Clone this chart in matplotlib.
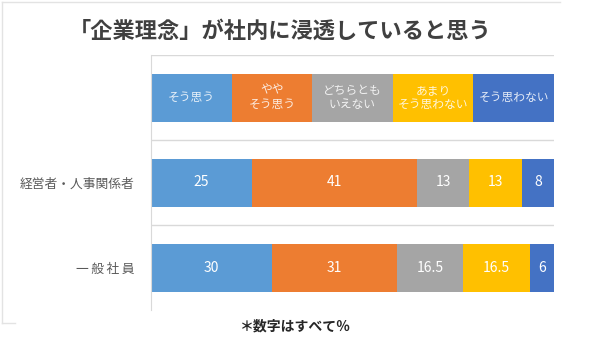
import matplotlib
matplotlib.use('Agg')
import matplotlib.pyplot as plt
import numpy as np

plt.rcParams['font.family'] = ['Noto Sans CJK JP', 'DejaVu Sans']

title = '「企業理念」が社内に浸透していると思う'
note = '＊数字はすべて％'
answers = ['そう思う', 'やや\nそう思う', 'どちらとも\nいえない', 'あまり\nそう思わない', 'そう思わない']
groups = ['経営者・人事関係者', '一\u2009般\u2009社\u2009員']
values = [
    [25, 41, 13, 13, 8],
    [30, 31, 16.5, 16.5, 6],
]
header = [20, 20, 20, 20, 20]
colors = ['#5B9BD5', '#ED7D31', '#A5A5A5', '#FFC000', '#4472C4']

fig = plt.figure(figsize=(6, 3.63), dpi=100)
ax = fig.add_axes([151 / 600, 1 - 310 / 363, (554 - 151) / 600, (310 - 55) / 363])

rows = [header] + values
h = 48 / 85
for r, row in enumerate(rows):
    left = 0
    for i, v in enumerate(row):
        ax.barh(r, v, left=left, height=h, color=colors[i], edgecolor='none')
        if r == 0:
            ax.text(left + v / 2, r, answers[i], ha='center', va='center',
                    color='white', alpha=0.85, fontsize=8.5, linespacing=1.15)
        else:
            ax.text(left + v / 2, r, '%g' % v, ha='center', va='center',
                    color='white', fontsize=10)
        left += v

for y in [-0.5, 0.5, 1.5]:
    ax.axhline(y, color='#d9d9d9', lw=1, zorder=0)

ax.set_xlim(0, 100)
ax.set_ylim(2.5, -0.5)
ax.set_yticks([1, 2])
ax.set_yticklabels(groups, fontsize=9.2, color='#595959')
ax.tick_params(axis='y', length=0, pad=12)
ax.set_xticks([])
for s in ['top', 'right', 'bottom']:
    ax.spines[s].set_visible(False)
ax.spines['left'].set_color('#d9d9d9')

fig.text(280 / 600, 1 - 31 / 363, title, ha='center', va='center',
         fontsize=16, fontweight='bold', color='#404040')
fig.text(295 / 600, 1 - 327 / 363, note, ha='center', va='center',
         fontsize=10, fontweight='bold', color='#262626')

# faint frame of the original screenshot
fig.add_artist(plt.Line2D([0.004, 0.004], [1 - 2 / 363, 1 - 323 / 363], color='#e3e3e3', lw=1))
fig.add_artist(plt.Line2D([0.004, 15 / 600], [1 - 323 / 363, 1 - 323 / 363], color='#e3e3e3', lw=1))
fig.add_artist(plt.Line2D([0.004, 560 / 600], [1 - 2 / 363, 1 - 2 / 363], color='#e3e3e3', lw=1))

fig.savefig('out.png', dpi=100)
